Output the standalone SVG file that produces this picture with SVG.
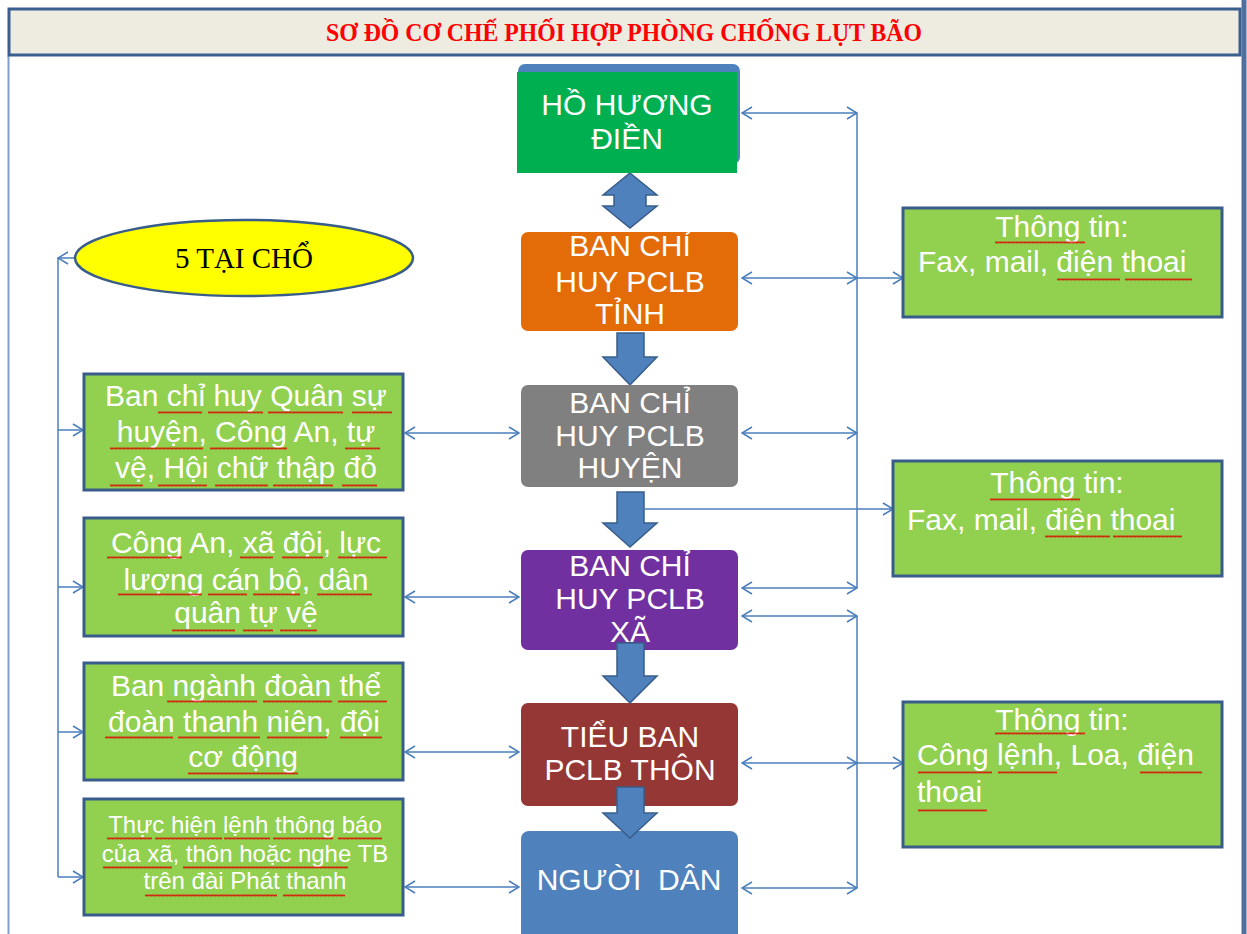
<svg xmlns="http://www.w3.org/2000/svg" width="1247" height="934" viewBox="0 0 1247 934">
<defs>
<style>
.conn{fill:none;stroke:#4A7EBB;stroke-width:1.5}
.both{marker-start:url(#ah);marker-end:url(#ah)}
.end{marker-end:url(#ah)}
.ctext{font-family:"Liberation Sans",Arial,sans-serif;font-size:30px;fill:#FFFFFF;text-anchor:middle}
.gtext{font-family:"Liberation Sans",Arial,sans-serif;font-size:30px;fill:#FFFFFF;text-anchor:middle}
.stext{font-family:"Liberation Sans",Arial,sans-serif;font-size:24px;fill:#FFFFFF;text-anchor:middle}
.rtext{font-family:"Liberation Sans",Arial,sans-serif;font-size:30px;fill:#FFFFFF}
.green{fill:#92D050;stroke:#385D8A;stroke-width:3}
.barrow{fill:#4F81BD;stroke:#385D8A;stroke-width:1.5}
.sq{fill:url(#wavy)}
</style>
<marker id="ah" viewBox="0 0 12 14" refX="11" refY="7" markerWidth="12" markerHeight="14" markerUnits="userSpaceOnUse" orient="auto-start-reverse">
<path d="M1,1 L11,7 L1,13" fill="none" stroke="#4A7EBB" stroke-width="1.5"/>
</marker>
<pattern id="wavy" width="4" height="3" patternUnits="userSpaceOnUse">
<path d="M0,2.5 L1,0.5 L2,2.5 L3,0.5 L4,2.5" fill="none" stroke="#E00000" stroke-width="0.8"/>
</pattern>
</defs>
<rect x="0" y="0" width="1247" height="934" fill="#FFFFFF"/>

<!-- frame -->
<g id="frame">
<line x1="8.5" y1="56" x2="8.5" y2="934" stroke="#7F9FCF" stroke-width="2"/>
<line x1="1244" y1="0" x2="1244" y2="934" stroke="#4F6F9F" stroke-width="5"/>
<rect x="9" y="9" width="1231" height="46" fill="#EEECE1" stroke="#3A5F8F" stroke-width="3"/>
<text x="624" y="41" font-family="'Liberation Serif','Times New Roman',serif" font-weight="bold" font-size="26" fill="#FF0000" text-anchor="middle" textLength="596" lengthAdjust="spacingAndGlyphs">SƠ ĐỒ CƠ CHẾ PHỐI HỢP PHÒNG CHỐNG LỤT BÃO</text>
</g>

<!-- connectors -->
<g id="connectors">
<line class="conn both" x1="742" y1="113" x2="857" y2="113"/>
<line class="conn both" x1="742" y1="278" x2="857" y2="278"/>
<line class="conn end" x1="857" y1="278" x2="903" y2="278"/>
<line class="conn both" x1="742" y1="433" x2="857" y2="433"/>
<line class="conn both" x1="742" y1="588" x2="857" y2="588"/>
<line class="conn both" x1="742" y1="616" x2="857" y2="616"/>
<line class="conn both" x1="742" y1="763" x2="857" y2="763"/>
<line class="conn end" x1="857" y1="763" x2="903" y2="763"/>
<line class="conn both" x1="742" y1="888" x2="857" y2="888"/>
<line class="conn" x1="857" y1="113" x2="857" y2="588"/>
<line class="conn" x1="857" y1="616" x2="857" y2="888"/>
<line class="conn end" x1="645" y1="509" x2="893" y2="509"/>

<line class="conn both" x1="405" y1="433" x2="519" y2="433"/>
<line class="conn both" x1="405" y1="597" x2="519" y2="597"/>
<line class="conn both" x1="405" y1="752" x2="519" y2="752"/>
<line class="conn both" x1="405" y1="887" x2="519" y2="887"/>

<line class="conn end" x1="76" y1="258" x2="58" y2="258"/>
<line class="conn" x1="58" y1="258" x2="58" y2="877"/>
<line class="conn end" x1="58" y1="430" x2="83" y2="430"/>
<line class="conn end" x1="58" y1="587" x2="83" y2="587"/>
<line class="conn end" x1="58" y1="732" x2="83" y2="732"/>
<line class="conn end" x1="58" y1="877" x2="83" y2="877"/>

<!-- block arrows -->
<path class="barrow" d="M630,173 L657,195 L646,195 L646,206 L657,206 L630,228 L603,206 L614,206 L614,195 L603,195 Z"/>
<path class="barrow" d="M617,333 L644,333 L644,357 L657,357 L630,385 L603,357 L617,357 Z"/>
<path class="barrow" d="M617,492 L644,492 L644,523 L657,523 L630,547 L603,523 L617,523 Z"/>
</g>

<!-- central column -->
<g id="node-ho-huong-dien">
<rect x="518" y="64" width="222" height="100" rx="7" fill="#4F81BD"/>
<rect x="517" y="72" width="220" height="101" fill="#00B050"/>
<text class="ctext" x="627" y="115">HỒ HƯƠNG</text>
<text class="ctext" x="627" y="149">ĐIỀN</text>
</g>
<g id="node-tinh">
<rect x="521" y="232" width="217" height="99" rx="7" fill="#E36C09"/>
<text class="ctext" x="630" y="256">BAN CHỈ</text>
<text class="ctext" x="630" y="292">HUY PCLB</text>
<text class="ctext" x="630" y="324">TỈNH</text>
</g>
<g id="node-huyen">
<rect x="521" y="385" width="217" height="102" rx="7" fill="#808080"/>
<text class="ctext" x="630" y="413">BAN CHỈ</text>
<text class="ctext" x="630" y="446">HUY PCLB</text>
<text class="ctext" x="630" y="478">HUYỆN</text>
</g>
<g id="node-xa">
<rect x="521" y="550" width="217" height="100" rx="7" fill="#7030A0"/>
<text class="ctext" x="630" y="576">BAN CHỈ</text>
<text class="ctext" x="630" y="609">HUY PCLB</text>
<text class="ctext" x="630" y="642">XÃ</text>
</g>
<g id="node-thon">
<rect x="521" y="703" width="217" height="103" rx="7" fill="#953735"/>
<text class="ctext" x="630" y="747">TIỂU BAN</text>
<text class="ctext" x="630" y="780">PCLB THÔN</text>
</g>
<g id="node-nguoi-dan">
<rect x="521" y="831" width="217" height="112" rx="8" fill="#4F81BD"/>
<text class="ctext" x="629" y="890" xml:space="preserve">NGƯỜI  DÂN</text>
</g>
<g id="arrows-lower">
<path class="barrow" d="M617,643 L644,643 L644,676 L657,676 L630,703 L603,676 L617,676 Z"/>
<path class="barrow" d="M617,787 L644,787 L644,813 L657,813 L630,838 L603,813 L617,813 Z"/>
</g>

<!-- left side -->
<g id="node-5-tai-cho">
<ellipse cx="244" cy="258" rx="169" ry="38" fill="#FFFF00" stroke="#385D8A" stroke-width="2.5"/>
<text x="244" y="268" font-family="'Liberation Serif','Times New Roman',serif" font-size="29" fill="#000000" text-anchor="middle">5 TẠI CHỔ</text>
</g>
<g id="node-left-1">
<rect class="green" x="84" y="374" width="319" height="116"/>
<text class="gtext" x="246" y="406">Ban chỉ huy Quân sự</text>
<text class="gtext" x="246" y="442">huyện, Công An, tự</text>
<text class="gtext" x="246" y="478">vệ, Hội chữ thập đỏ</text>
</g>
<g id="node-left-2">
<rect class="green" x="84" y="518" width="319" height="118"/>
<text class="gtext" x="246" y="553">Công An, xã đội, lực</text>
<text class="gtext" x="246" y="590">lượng cán bộ, dân</text>
<text class="gtext" x="246" y="623">quân tự vệ</text>
</g>
<g id="node-left-3">
<rect class="green" x="84" y="663" width="319" height="117"/>
<text class="gtext" x="246" y="696">Ban ngành đoàn thể</text>
<text class="gtext" x="244" y="732">đoàn thanh niên, đội</text>
<text class="gtext" x="243" y="767">cơ động</text>
</g>
<g id="node-left-4">
<rect class="green" x="84" y="799" width="319" height="116"/>
<text class="stext" x="245" y="833">Thực hiện lệnh thông báo</text>
<text class="stext" x="245" y="862">của xã, thôn hoặc nghe TB</text>
<text class="stext" x="245" y="889">trên đài Phát thanh</text>
</g>

<!-- right side -->
<g id="node-right-1">
<rect class="green" x="903" y="208" width="319" height="109"/>
<text class="gtext" x="1062" y="237">Thông tin:</text>
<text class="rtext" x="918" y="272">Fax, mail, điện thoai</text>
</g>
<g id="node-right-2">
<rect class="green" x="893" y="461" width="329" height="115"/>
<text class="gtext" x="1057" y="493">Thông tin:</text>
<text class="rtext" x="907" y="530">Fax, mail, điện thoai</text>
</g>
<g id="node-right-3">
<rect class="green" x="903" y="702" width="319" height="145"/>
<text class="gtext" x="1062" y="730">Thông tin:</text>
<text class="rtext" x="917" y="765">Công lệnh, Loa, điện</text>
<text class="rtext" x="917" y="802">thoai</text>
</g>

<!-- spell-check squiggles -->
<g id="squiggles">
<rect class="sq" transform="translate(158,411)" width="44" height="3"/>
<rect class="sq" transform="translate(208,411)" width="55" height="3"/>
<rect class="sq" transform="translate(268,411)" width="75" height="3"/>
<rect class="sq" transform="translate(352,411)" width="40" height="3"/>
<rect class="sq" transform="translate(110,447)" width="93" height="3"/>
<rect class="sq" transform="translate(210,447)" width="77" height="3"/>
<rect class="sq" transform="translate(345,447)" width="35" height="3"/>
<rect class="sq" transform="translate(110,484)" width="33" height="3"/>
<rect class="sq" transform="translate(158,484)" width="49" height="3"/>
<rect class="sq" transform="translate(215,484)" width="53" height="3"/>
<rect class="sq" transform="translate(273,484)" width="60" height="3"/>
<rect class="sq" transform="translate(342,484)" width="35" height="3"/>

<rect class="sq" transform="translate(107,556)" width="75" height="3"/>
<rect class="sq" transform="translate(240,556)" width="33" height="3"/>
<rect class="sq" transform="translate(282,556)" width="41" height="3"/>
<rect class="sq" transform="translate(338,556)" width="49" height="3"/>
<rect class="sq" transform="translate(118,593)" width="84" height="3"/>
<rect class="sq" transform="translate(208,593)" width="39" height="3"/>
<rect class="sq" transform="translate(253,593)" width="47" height="3"/>
<rect class="sq" transform="translate(317,593)" width="55" height="3"/>
<rect class="sq" transform="translate(172,629)" width="63" height="3"/>
<rect class="sq" transform="translate(243,629)" width="30" height="3"/>
<rect class="sq" transform="translate(280,629)" width="37" height="3"/>

<rect class="sq" transform="translate(167,700)" width="90" height="3"/>
<rect class="sq" transform="translate(263,700)" width="69" height="3"/>
<rect class="sq" transform="translate(338,700)" width="49" height="3"/>
<rect class="sq" transform="translate(105,736)" width="68" height="3"/>
<rect class="sq" transform="translate(178,736)" width="82" height="3"/>
<rect class="sq" transform="translate(267,736)" width="60" height="3"/>
<rect class="sq" transform="translate(340,736)" width="42" height="3"/>
<rect class="sq" transform="translate(188,772)" width="110" height="3"/>

<rect class="sq" transform="translate(107,837)" width="45" height="3"/>
<rect class="sq" transform="translate(155,837)" width="67" height="3"/>
<rect class="sq" transform="translate(224,837)" width="46" height="3"/>
<rect class="sq" transform="translate(273,837)" width="60" height="3"/>
<rect class="sq" transform="translate(338,837)" width="44" height="3"/>
<rect class="sq" transform="translate(103,866)" width="69" height="3"/>
<rect class="sq" transform="translate(183,866)" width="165" height="3"/>
<rect class="sq" transform="translate(145,894)" width="132" height="3"/>
<rect class="sq" transform="translate(283,894)" width="62" height="3"/>

<rect class="sq" transform="translate(995,241)" width="90" height="3"/>
<rect class="sq" transform="translate(1057,278)" width="63" height="3"/>
<rect class="sq" transform="translate(1125,278)" width="67" height="3"/>
<rect class="sq" transform="translate(990,498)" width="90" height="3"/>
<rect class="sq" transform="translate(1045,535)" width="65" height="3"/>
<rect class="sq" transform="translate(1113,535)" width="69" height="3"/>
<rect class="sq" transform="translate(995,732)" width="90" height="3"/>
<rect class="sq" transform="translate(918,771)" width="74" height="3"/>
<rect class="sq" transform="translate(998,771)" width="59" height="3"/>
<rect class="sq" transform="translate(1140,771)" width="62" height="3"/>
<rect class="sq" transform="translate(918,809)" width="69" height="3"/>
</g>
</svg>
